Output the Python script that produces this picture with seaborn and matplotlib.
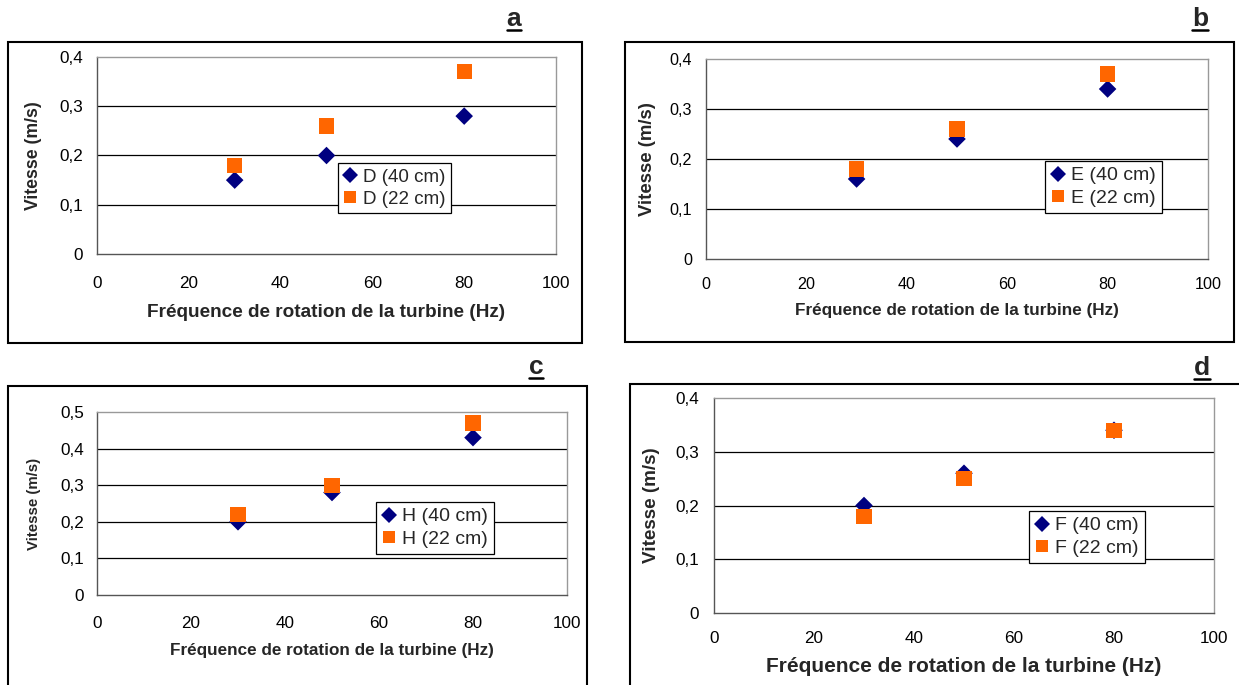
import matplotlib
matplotlib.use("Agg")
import matplotlib.pyplot as plt
import pandas as pd
import seaborn as sns
from matplotlib.patches import Rectangle
from matplotlib.lines import Line2D

# ---------------- data ----------------
freq = [30, 50, 80]
d_40 = [0.15, 0.20, 0.28]
d_22 = [0.18, 0.26, 0.37]
e_40 = [0.16, 0.24, 0.34]
e_22 = [0.18, 0.26, 0.37]
h_40 = [0.20, 0.28, 0.43]
h_22 = [0.22, 0.30, 0.47]
f_40 = [0.20, 0.26, 0.34]
f_22 = [0.18, 0.25, 0.34]

xticks = [0, 20, 40, 60, 80, 100]
yticks_04 = [0, 0.1, 0.2, 0.3, 0.4]
yticklabels_04 = ["0", "0,1", "0,2", "0,3", "0,4"]
yticks_05 = [0, 0.1, 0.2, 0.3, 0.4, 0.5]
yticklabels_05 = ["0", "0,1", "0,2", "0,3", "0,4", "0,5"]
xlabel = "Fréquence de rotation de la turbine (Hz)"
ylabel = "Vitesse (m/s)"

NAVY = "#000080"
ORANGE = "#FF6600"

sns.set_style("white")
plt.rcParams["font.family"] = ["Liberation Sans", "DejaVu Sans"]

W, H = 1239, 685
fig = plt.figure(figsize=(W / 100, H / 100), dpi=100)

panels = [
    dict(letter="a", name="D", s40=d_40, s22=d_22, yt=yticks_04, ytl=yticklabels_04,
         ax=(97, 57, 556, 254), frame=(8, 42, 582, 343), leg=(338, 163), lfs=13.5,
         xlfs=13.7, ylfs=12.7, tfs=12.3, xl_y=313, yl_x=34, ypad=6.5, xpad=12.3,
         let=(514, 26.5, 29.5)),
    dict(letter="b", name="E", s40=e_40, s22=e_22, yt=yticks_04, ytl=yticklabels_04,
         ax=(706, 59, 1208, 259), frame=(625, 42, 1234, 342), leg=(1045, 161), lfs=14,
         xlfs=12.3, ylfs=13.4, tfs=11.6, xl_y=310, yl_x=648, ypad=6.5, xpad=9.5,
         let=(1200, 26.5, 29.5)),
    dict(letter="c", name="H", s40=h_40, s22=h_22, yt=yticks_05, ytl=yticklabels_05,
         ax=(97, 412, 567, 595), frame=(8, 386, 587, 720), leg=(376, 502), lfs=14,
         xlfs=12.3, ylfs=10.8, tfs=12.3, xl_y=651, yl_x=34, ypad=5.8, xpad=11.5,
         let=(536, 374.5, 378)),
    dict(letter="d", name="F", s40=f_40, s22=f_22, yt=yticks_04, ytl=yticklabels_04,
         ax=(714, 398, 1214, 613), frame=(630, 384, 1260, 720), leg=(1029, 511), lfs=14,
         xlfs=15, ylfs=13.6, tfs=12.3, xl_y=667, yl_x=652, ypad=7.2, xpad=9.5,
         let=(1202, 375, 379)),
]

for p in panels:
    x0, y0, x1, y1 = p["ax"]
    ax = fig.add_axes([x0 / W, 1 - y1 / H, (x1 - x0) / W, (y1 - y0) / H])
    lab40 = f"{p['name']} (40 cm)"
    lab22 = f"{p['name']} (22 cm)"
    df40 = pd.DataFrame({"freq": freq, "v": p["s40"]})
    df22 = pd.DataFrame({"freq": freq, "v": p["s22"]})

    for yv in p["yt"][1:-1]:
        ax.axhline(yv, color="black", lw=0.9, zorder=0.5)

    sns.scatterplot(data=df40, x="freq", y="v", marker="D", s=80, color=NAVY,
                    edgecolor="none", ax=ax, legend=False, zorder=3)
    sns.scatterplot(data=df22, x="freq", y="v", marker="s", s=120, color=ORANGE,
                    edgecolor="none", ax=ax, legend=False, zorder=4)

    ax.set_xlim(xticks[0], xticks[-1])
    ax.set_ylim(p["yt"][0], p["yt"][-1])
    ax.set_xticks(xticks)
    ax.set_xticklabels([str(t) for t in xticks])
    ax.set_yticks(p["yt"])
    ax.set_yticklabels(p["ytl"])
    ax.tick_params(axis="both", direction="out", length=3.6, width=0.8,
                   color="#444444", labelsize=p["tfs"], labelcolor="black")
    ax.tick_params(axis="y", pad=p["ypad"])
    ax.tick_params(axis="x", pad=p["xpad"])

    for side in ["left", "bottom"]:
        ax.spines[side].set_color("#555555")
        ax.spines[side].set_linewidth(1.0)
    for side in ["top", "right"]:
        ax.spines[side].set_visible(True)
        ax.spines[side].set_color("#999999")
        ax.spines[side].set_linewidth(1.0)
    ax.set_facecolor("white")

    ax.set_xlabel(xlabel, fontsize=p["xlfs"], fontweight="bold", va="center")
    ax.xaxis.set_label_coords(0.5, (y1 - p["xl_y"]) / (y1 - y0))
    ax.set_ylabel(ylabel, fontsize=p["ylfs"], fontweight="bold", va="center")
    ax.yaxis.set_label_coords((p["yl_x"] - x0) / (x1 - x0), 0.5)

    handles = [
        Line2D([], [], marker="D", ls="", color=NAVY, markeredgewidth=0, ms=8.3),
        Line2D([], [], marker="s", ls="", color=ORANGE, markeredgewidth=0, ms=8),
    ]
    lx, ly = p["leg"]
    leg = ax.legend(handles, [lab40, lab22], loc="upper left",
                    bbox_to_anchor=(lx / W, 1 - ly / H), bbox_transform=fig.transFigure,
                    frameon=True, fancybox=False, edgecolor="black", framealpha=1,
                    fontsize=p["lfs"], handlelength=0.7, handletextpad=0.35,
                    borderpad=0.3, labelspacing=0.25, borderaxespad=0)
    leg.get_frame().set_linewidth(0.9)
    leg.set_zorder(10)

    fx0, fy0, fx1, fy1 = p["frame"]
    fig.add_artist(Rectangle((fx0 / W, 1 - fy1 / H), (fx1 - fx0) / W, (fy1 - fy0) / H,
                             transform=fig.transFigure, fill=False, ec="black", lw=1.5))

# panel letters with underline
fig.canvas.draw()
renderer = fig.canvas.get_renderer()
for p in panels:
    cx, base, uy = p["let"]
    t = fig.text(cx / W, 1 - base / H, p["letter"], ha="center", va="baseline",
                 fontsize=19, fontweight="bold")
    bb = t.get_window_extent(renderer)
    fig.add_artist(Line2D([bb.x0 / W, bb.x1 / W], [1 - uy / H, 1 - uy / H],
                          transform=fig.transFigure, color="black", lw=1.8))

fig.savefig("out.png", dpi=100)
